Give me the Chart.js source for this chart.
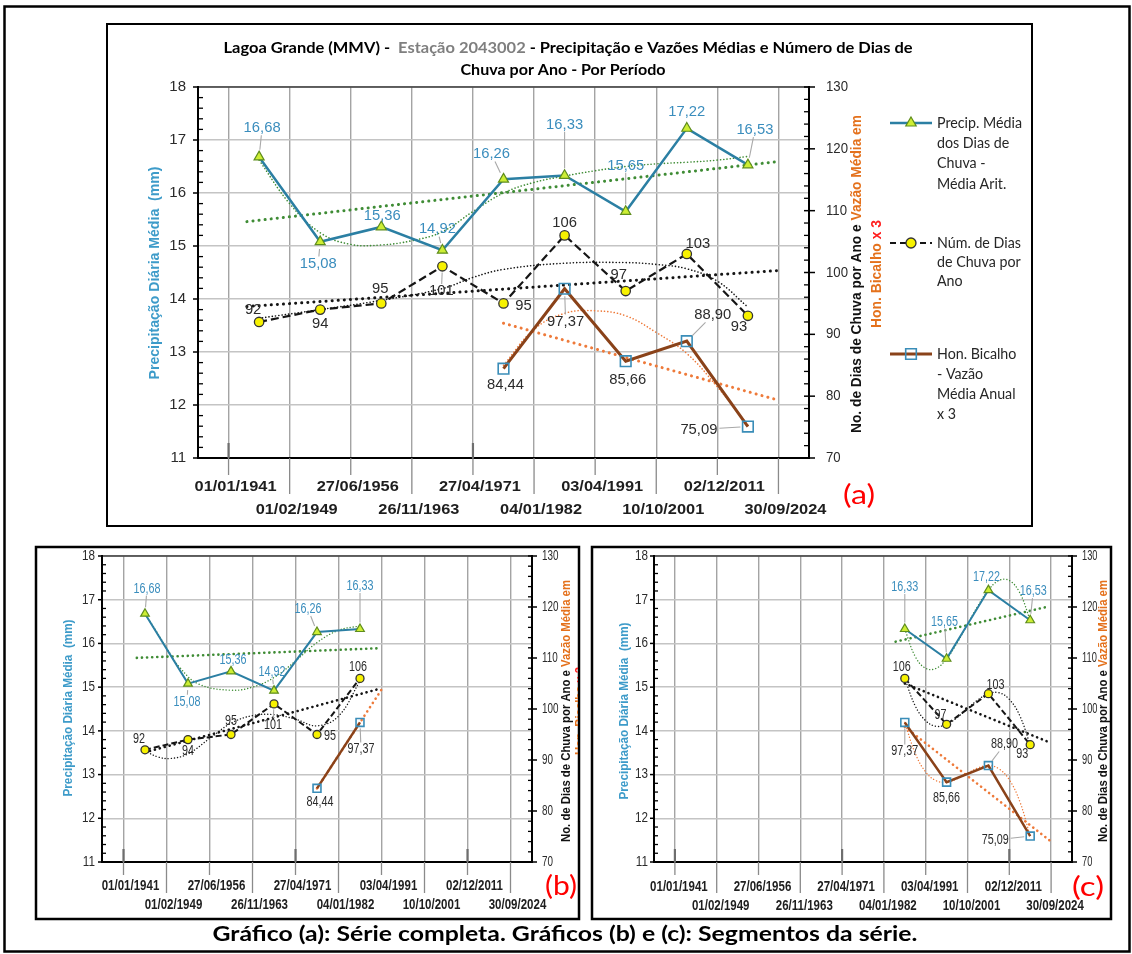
<!DOCTYPE html>
<html><head><meta charset="utf-8">
<script src="https://cdn.jsdelivr.net/npm/chart.js@4.4.1/dist/chart.umd.min.js"></script>
<style>
html,body{margin:0;padding:0;background:#fff;}
#page{position:relative;width:1132px;height:954px;overflow:hidden;background:#fff;}
#page canvas{position:absolute;left:0;top:0;}
</style></head>
<body><div id="page">
<canvas id="cFrame" width="1132" height="954"></canvas>
<canvas id="cA" width="1132" height="954"></canvas>
<canvas id="cB" width="1132" height="954"></canvas>
<canvas id="cC" width="1132" height="954"></canvas>
</div>
<script>
// ================= DATA =================
const periodNumber = [1,2,3,4,5,6,7,8,9];
const precipMediaDiaria = [16.68,15.08,15.36,14.92,16.26,16.33,15.65,17.22,16.53];
const numDiasChuva = [92,94,95,101,95,106,97,103,93];
const vazaoPeriodNumber = [5,6,7,8,9];
const vazaoHonBicalhoX3 = [84.44,97.37,85.66,88.90,75.09];
const dateGridPositions = [0.5,1.5,2.5,3.5,4.5,5.5,6.5,7.5,8.5,9.5];
const dateTickLabels = ['01/01/1941','01/02/1949','27/06/1956','26/11/1963','27/04/1971','04/01/1982','03/04/1991','10/10/2001','02/12/2011','30/09/2024'];
const precipTicks = [11,12,13,14,15,16,17,18];
const diasTicks = [70,80,90,100,110,120,130];

// trendlines as they appear in each panel (x = period number, y = value)
const trendA_precipLinear = [[0.8,15.46],[9.47,16.59]];
const trendA_precipPoly = [[1,16.62],[1.5,15.8],[2,15.25],[2.5,15.03],[3,15.02],[3.5,15.1],[4,15.27],[4.5,15.65],[5,16.0],[5.5,16.2],[6,16.32],[6.5,16.42],[7,16.5],[7.5,16.55],[8,16.58],[8.5,16.62],[9,16.69]];
const trendA_diasLinear = [[0.8,94.5],[9.47,100.3]];
const trendA_diasPoly = [[1,92.6],[2,94.0],[3,95.5],[4,97.4],[4.5,99.2],[5,100.5],[6,101.5],[7,101.6],[7.5,101.3],[8,100.6],[8.5,98.6],[9,94.4]];
const trendA_vazaoLinear = [[5,91.8],[9.48,79.4]];
const trendA_vazaoPoly = [[5,85.0],[5.5,90.8],[6,93.4],[6.5,93.8],[7,93.0],[7.5,90.3],[8,86.9],[8.5,81.5],[9,75.3]];

const trendB_precipLinear = [[0.81,15.67],[6.44,15.89]];
const trendB_precipPoly = [[1,16.68],[1.25,16.3],[1.5,15.9],[1.8,15.46],[2.25,15.07],[3,14.93],[3.5,15.0],[4,15.22],[4.5,15.6],[5,16.02],[5.5,16.3],[6,16.4]];
const trendB_diasLinear = [[1,91.5],[6.47,104.0]];
const trendB_diasPoly = [[1,91.8],[1.3,90.6],[1.6,90.3],[2,91.2],[2.5,94.2],[3,97.2],[3.5,98.7],[4,98.9],[4.5,98.0],[5,96.7],[5.5,98.6],[6,105.5]];
const trendB_vazaoLinear = [[5,84.44],[6.5,103.8]];

const trendC_precipLinear = [[5.78,16.04],[9.42,16.84]];
const trendC_precipPoly = [[6,16.33],[6.25,15.7],[6.5,15.43],[6.75,15.43],[7,15.65],[7.25,16.01],[7.5,16.44],[7.75,16.86],[8,17.22],[8.25,17.44],[8.5,17.44],[8.75,17.16],[9,16.53]];
const trendC_diasLinear = [[6,105.0],[9.45,93.5]];
const trendC_diasPoly = [[6,106],[6.25,100.6],[6.5,97.7],[6.75,96.6],[7,97],[7.25,98.3],[7.5,100.1],[7.75,101.8],[8,103],[8.25,103.2],[8.5,101.9],[8.75,98.7],[9,93]];
const trendC_vazaoLinear = [[6,96.5],[9.5,74.0]];
const trendC_vazaoPoly = [[6,97.37],[6.25,91.3],[6.5,87.65],[6.75,85.94],[7,85.66],[7.25,86.32],[7.5,87.41],[7.75,88.44],[8,88.9],[8.25,88.29],[8.5,86.13],[8.75,81.89],[9,75.09]];

// ================= STYLE / LAYOUT =================
const ARIAL = "'Liberation Sans', Arimo, Arial, sans-serif";
const CAL = "Lato, 'Open Sans', sans-serif";
const COL = {
  teal:'#2b7fa3', tealLabel:'#3a8dbd', tealTitle:'#3d9bc9',
  triFill:'#cdee34', triEdge:'#5f8d1d', green:'#3f8c35',
  black:'#151515', yellow:'#f7f200', circEdge:'#333',
  brown:'#8a4219', sqEdge:'#3a8db8', orange:'#ee7a3a', orangeTitle:'#e4711c', red:'#ff2020',
  gridV:'#a4a4a4', gridH:'#c4c4c4', text:'#2b2b2b', gray:'#7f7f7f', leader:'#a8a8a8'
};
const W = 1132, H = 954;

const specA = {
  canvas:'cA', area:{l:198,r:809,t:87,b:458}, clip:[108,24,1031,525],
  range:[0,9], flowRange:[0,5],
  trends:{pLin:trendA_precipLinear,pPoly:trendA_precipPoly,dLin:trendA_diasLinear,dPoly:trendA_diasPoly,vLin:trendA_vazaoLinear,vPoly:trendA_vazaoPoly},
  marker:{tri:5.8,circ:4.7,sq:7.5}, lineW:{p:2.5,d:2.2,v:3}, dash:[8,4], trendW:[3,1.6], dotGap:[6,3.2],
  tickFont:{size:15,family:ARIAL,ref:'18',refW:16.7}, tick2Font:{size:15,family:ARIAL,ref:'130',refW:22},
  xFont:{size:15,family:ARIAL,weight:'bold',ref:'01/01/1941',refW:82}, xRows:[487,510], xDx:7, stubLen:[17,36], innerStubs:[0,4], innerLen:15,
  tickGapL:12, tickGapR:17, majorTick:5, minorTick:5,
  labelFont:{size:15,family:ARIAL,ref:'16,68',refW:37},
  offsets:{
    p:[[3,-29,1],[-2,22,1],[1,-11,0],[-5,-21,1],[-12,-25,1],[0,-51,1],[0,-46,1],[0,-16,0],[7,-35,1]],
    d:[[-6,-12,0],[0,14,0],[-1,-15,0],[-1,25,1],[20,2,0],[0,-13,0],[-7,-16,0],[11,-10,0],[-9,11,0]],
    v:[[2,16,0],[1,33,1],[2,19,0],[26,-26,1],[-49,3,1]]
  },
  leftTitle:{x:155,y:273,size:14,w:213}, rightTitle:{x:857,x2:877,y:274,size:14,w:318,w2:108},
  tag:{text:'(a)',x:859,y:496,size:26,w:32}, main:true
};
const specB = {
  canvas:'cB', area:{l:102,r:532,t:556,b:862}, clip:[37,548,578,918],
  range:[0,6], flowRange:[0,2],
  trends:{pLin:trendB_precipLinear,pPoly:trendB_precipPoly,dLin:trendB_diasLinear,dPoly:trendB_diasPoly,vLin:trendB_vazaoLinear},
  marker:{tri:5,circ:4,sq:5.6}, lineW:{p:2,d:2,v:2.5}, dash:[6,3], trendW:[2.6,1.4], dotGap:[5,3],
  tickFont:{size:14,family:ARIAL,ref:'18',refW:13}, tick2Font:{size:14,family:ARIAL,ref:'130',refW:16.5},
  xFont:{size:14,family:ARIAL,weight:'bold',ref:'02/12/2011',refW:57}, xRows:[886,905], xDx:7, stubLen:[13,31], innerStubs:[0,4,8], innerLen:13,
  tickGapL:7, tickGapR:10, majorTick:4, minorTick:4,
  labelFont:{size:14,family:ARIAL,ref:'16,68',refW:27},
  offsets:{
    p:[[2,-25,1],[-1,18,1],[2,-11,0],[-2,-18,1],[-9,-23,1],[0,-43,1]],
    d:[[-6,-11,0],[0,12,0],[0,-13,0],[-1,21,1],[13,2,0],[-2,-11,0]],
    v:[[3,14,0],[1,27,1]]
  },
  leftTitle:{x:68,y:708,size:13.5,w:177}, rightTitle:{x:566,x2:580,y:711,size:13,w:262},
  tag:{text:'(b)',x:561,y:887,size:26,w:32}
};
const specC = {
  canvas:'cC', area:{l:654,r:1072,t:556,b:862}, clip:[593,548,1110,918],
  range:[5,9], flowRange:[1,5],
  trends:{pLin:trendC_precipLinear,pPoly:trendC_precipPoly,dLin:trendC_diasLinear,dPoly:trendC_diasPoly,vLin:trendC_vazaoLinear,vPoly:trendC_vazaoPoly},
  marker:{tri:5,circ:4,sq:5.6}, lineW:{p:2,d:2,v:2.5}, dash:[6,3], trendW:[2.6,1.4], dotGap:[5,3],
  tickFont:{size:14,family:ARIAL,ref:'18',refW:13}, tick2Font:{size:14,family:ARIAL,ref:'130',refW:15.5},
  xFont:{size:14,family:ARIAL,weight:'bold',ref:'02/12/2011',refW:57}, xRows:[887,906], xDx:4, stubLen:[13,31], innerStubs:[0,4,8], innerLen:13,
  tickGapL:6, tickGapR:10, majorTick:4, minorTick:4,
  labelFont:{size:14,family:ARIAL,ref:'16,68',refW:27},
  offsets:{
    p:[[0,-42,1],[-2,-37,1],[-2,-13,0],[3,-29,1]],
    d:[[-3,-11,0],[-6,-9,0],[7,-9,0],[-8,9,0]],
    v:[[0,29,1],[0,16,0],[16,-21,1],[-35,4,1]]
  },
  leftTitle:{x:624,y:711,size:13.5,w:177}, rightTitle:{x:1103,x2:1117,y:711,size:13,w:262},
  tag:{text:'(c)',x:1088,y:888,size:26,w:32}
};

// ================= HELPERS =================
function fontStr(f){ return (f.weight||'normal')+' '+f.size+'px '+f.family; }
function calib(ctx,f){ ctx.save(); ctx.font=fontStr(f); const w=ctx.measureText(f.ref).width; ctx.restore(); return Object.assign({},f,{sx:f.refW? f.refW/w:1}); }
function measure(ctx,text,f){ ctx.save(); ctx.font=fontStr(f); const w=ctx.measureText(text).width; ctx.restore(); return w*(f.sx||1); }
function drawParts(ctx,parts,x,y,f,align,rot,widthOverride){
  ctx.save(); ctx.font=fontStr(f);
  const ws=parts.map(p=>ctx.measureText(p[0]).width); const tot=ws.reduce((a,b)=>a+b,0);
  const sx=widthOverride? widthOverride/tot : (f.sx||1);
  ctx.translate(x,y); if(rot) ctx.rotate(rot); ctx.scale(sx,1);
  let cx= align==='left'?0 : align==='right'? -tot : -tot/2;
  ctx.textAlign='left'; ctx.textBaseline='middle';
  parts.forEach((p,i)=>{ ctx.fillStyle=p[1]; ctx.fillText(p[0],cx,0); cx+=ws[i]; });
  ctx.restore();
  return {w:tot*sx,sx:sx};
}
function line(ctx,x1,y1,x2,y2,color,w,dash,cap){
  ctx.save(); ctx.strokeStyle=color; ctx.lineWidth=w; ctx.setLineDash(dash||[]); if(cap) ctx.lineCap=cap;
  ctx.beginPath(); ctx.moveTo(x1,y1); ctx.lineTo(x2,y2); ctx.stroke(); ctx.restore();
}
function marker(ctx,type,x,y,r,fill,edge,bw){
  ctx.save(); ctx.beginPath();
  if(type==='triangle'){ for(let k=0;k<3;k++){ const a=-Math.PI/2+k*2*Math.PI/3; const px=x+r*Math.cos(a), py=y+r*Math.sin(a); k?ctx.lineTo(px,py):ctx.moveTo(px,py);} ctx.closePath(); }
  else if(type==='circle'){ ctx.arc(x,y,r,0,Math.PI*2); }
  else { const s=r*Math.SQRT1_2; ctx.rect(x-s,y-s,2*s,2*s); }
  if(fill){ ctx.fillStyle=fill; ctx.fill(); }
  ctx.strokeStyle=edge; ctx.lineWidth=bw; ctx.stroke(); ctx.restore();
}
const fmt2 = v => v.toFixed(2).replace('.',',');

// ================= FRAME / CAPTION =================
(function(){
  const ctx=document.getElementById('cFrame').getContext('2d');
  ctx.fillStyle='#fff'; ctx.fillRect(0,0,W,H);
  ctx.strokeStyle='#000';
  ctx.lineWidth=2.5; ctx.strokeRect(4.5,6.5,1125,945);
  ctx.lineWidth=2; ctx.strokeRect(107,24,925,502);
  ctx.lineWidth=2.5; ctx.strokeRect(36,547,543,372);
  ctx.strokeRect(592,547,519,372);
  drawParts(ctx,[['Gráfico (a): Série completa. Gráficos (b) e (c): Segmentos da série.','#000']],565,935,{size:20,weight:'bold',family:CAL},'center',0,705);
})();

// ================= CHARTS =================
function buildChart(spec){
  const [s0,s1]=spec.range, [f0,f1]=spec.flowRange;
  const P=periodNumber.slice(s0,s1), pr=precipMediaDiaria.slice(s0,s1), di=numDiasChuva.slice(s0,s1);
  const VP=vazaoPeriodNumber.slice(f0,f1), va=vazaoHonBicalhoX3.slice(f0,f1);
  const xy=(xs,ys)=>xs.map((x,i)=>({x:x,y:ys[i]}));
  const tr=arr=>arr.map(p=>({x:p[0],y:p[1]}));
  const datasets=[
    {data:xy(P,pr),yAxisID:'y',borderColor:COL.teal,borderWidth:spec.lineW.p,pointStyle:'triangle',pointRadius:spec.marker.tri,pointBackgroundColor:COL.triFill,pointBorderColor:COL.triEdge,pointBorderWidth:1.2,tension:0,order:0},
    {data:xy(P,di),yAxisID:'y2',borderColor:COL.black,borderWidth:spec.lineW.d,borderDash:spec.dash,pointStyle:'circle',pointRadius:spec.marker.circ,pointBackgroundColor:COL.yellow,pointBorderColor:COL.circEdge,pointBorderWidth:1.3,tension:0,order:0},
    {data:xy(VP,va),yAxisID:'y2',borderColor:COL.brown,borderWidth:spec.lineW.v,pointStyle:'rect',pointRadius:spec.marker.sq,pointBackgroundColor:'rgba(0,0,0,0)',pointBorderColor:COL.sqEdge,pointBorderWidth:1.6,tension:0,order:0}
  ];
  const trend=(arr,axis,color,thick)=>({data:tr(arr),yAxisID:axis,borderColor:color,borderWidth:thick?spec.trendW[0]:spec.trendW[1],borderDash:[0.1,thick?spec.dotGap[0]:spec.dotGap[1]],borderCapStyle:'round',pointRadius:0,tension:thick?0:0.4,fill:false,order:1});
  const T=spec.trends;
  if(T.pLin) datasets.push(trend(T.pLin,'y',COL.green,true));
  if(T.pPoly) datasets.push(trend(T.pPoly,'y',COL.green,false));
  if(T.dLin) datasets.push(trend(T.dLin,'y2',COL.black,true));
  if(T.dPoly) datasets.push(trend(T.dPoly,'y2',COL.black,false));
  if(T.vLin) datasets.push(trend(T.vLin,'y2',COL.orange,true));
  if(T.vPoly) datasets.push(trend(T.vPoly,'y2',COL.orange,false));

  const A=spec.area;
  const plugin={
    id:'deco',
    afterDatasetsDraw(chart){
      const ctx=chart.ctx;
      const lf=calib(ctx,spec.labelFont);
      const sets=[
        {ds:0,vals:pr,f:fmt2,color:COL.tealLabel,off:spec.offsets.p,r:spec.marker.tri},
        {ds:1,vals:di,f:v=>String(v),color:COL.text,off:spec.offsets.d,r:spec.marker.circ},
        {ds:2,vals:va,f:fmt2,color:COL.text,off:spec.offsets.v,r:spec.marker.sq*0.8}
      ];
      sets.forEach(s=>{
        const meta=chart.getDatasetMeta(s.ds);
        s.vals.forEach((v,i)=>{
          const el=meta.data[i]; const o=s.off[i]; const txt=s.f(v);
          const lx=el.x+o[0], ly=el.y+o[1];
          if(o[2]){
            const hw=measure(ctx,txt,lf)/2+2, hh=lf.size*0.42+1;
            const dx=el.x-lx, dy=el.y-ly; const dist=Math.hypot(dx,dy);
            const t=Math.min(dx?hw/Math.abs(dx):1e9, dy?hh/Math.abs(dy):1e9);
            const sxp=lx+dx*t, syp=ly+dy*t;
            const ex=el.x-dx/dist*(s.r+1.5), ey=el.y-dy/dist*(s.r+1.5);
            if(t<1 && Math.hypot(ex-sxp,ey-syp)>2) line(ctx,sxp,syp,ex,ey,COL.leader,1.1);
          }
          drawParts(ctx,[[txt,s.color]],lx,ly,lf,'center');
        });
      });
    },
    afterDraw(chart){
      const ctx=chart.ctx, ca=chart.chartArea, ys=chart.scales.y, y2=chart.scales.y2, xs=chart.scales.x;
      // plot frame / axes
      line(ctx,ca.left,ca.top,ca.right,ca.top,'#3a3a3a',1.6);
      line(ctx,ca.left,ca.top-1,ca.left,ca.bottom+1,'#000',2);
      line(ctx,ca.right,ca.top-1,ca.right,ca.bottom+1,'#000',2);
      line(ctx,ca.left-1,ca.bottom,ca.right+1,ca.bottom,'#000',2);
      // left axis ticks (major outside, minor inside every 0.2)
      for(let k=0;k<=35;k++){
        const v=11+k*0.2, py=ys.getPixelForValue(v);
        if(k%5===0) line(ctx,ca.left-spec.majorTick,py,ca.left,py,'#000',1.5);
        else line(ctx,ca.left,py,ca.left+spec.minorTick,py,'#000',1.3);
      }
      // right axis ticks (major crossing, minor inside every 2)
      for(let k=0;k<=30;k++){
        const v=70+k*2, py=y2.getPixelForValue(v);
        if(k%5===0) line(ctx,ca.right-spec.majorTick,py,ca.right+spec.majorTick+1,py,'#000',1.5);
        else line(ctx,ca.right-spec.minorTick,py,ca.right,py,'#000',1.3);
      }
      const tf=calib(ctx,spec.tickFont), tf2=calib(ctx,spec.tick2Font), xf=calib(ctx,spec.xFont);
      precipTicks.forEach(v=>drawParts(ctx,[[String(v),COL.text]],ca.left-spec.tickGapL,ys.getPixelForValue(v),tf,'right'));
      diasTicks.forEach(v=>drawParts(ctx,[[String(v),COL.text]],ca.right+spec.tickGapR,y2.getPixelForValue(v),tf2,'left'));
      // date labels, two staggered rows, with leader stubs
      dateTickLabels.forEach((lab,i)=>{
        const px=xs.getPixelForValue(dateGridPositions[i]); const row=i%2;
        line(ctx,px,ca.bottom,px,ca.bottom+spec.stubLen[row],'#8a8a8a',1.3);
        drawParts(ctx,[[lab,'#1e1e1e']],px+spec.xDx,spec.xRows[row],xf,'center');
      });
      spec.innerStubs.forEach(i=>{ const px=xs.getPixelForValue(dateGridPositions[i]); line(ctx,px,ca.bottom-spec.innerLen,px,ca.bottom,'#6e6e6e',2.2); });
      // axis titles (clipped to the panel box)
      ctx.save();
      const c=spec.clip; ctx.beginPath(); ctx.rect(c[0],c[1],c[2]-c[0],c[3]-c[1]); ctx.clip();
      const lt=spec.leftTitle;
      drawParts(ctx,[['Precipitação Diária Média  (mm)',COL.tealTitle]],lt.x,lt.y,{size:lt.size,weight:'bold',family:ARIAL},'center',-Math.PI/2,lt.w);
      const rt=spec.rightTitle;
      const r1=drawParts(ctx,[['No. de Dias de Chuva por Ano e ','#111'],['Vazão Média em',COL.orangeTitle]],rt.x,rt.y,{size:rt.size,weight:'bold',family:ARIAL},'center',-Math.PI/2,rt.w);
      const f2={size:rt.size,weight:'bold',family:ARIAL,sx:r1.sx};
      drawParts(ctx,[['Hon. Bicalho ',COL.orangeTitle],['x 3',COL.red]],rt.x2,rt.y,f2,'center',-Math.PI/2,rt.w2);
      ctx.restore();
      // panel tag
      const tg=spec.tag;
      drawParts(ctx,[[tg.text,'#ff0000']],tg.x,tg.y,{size:tg.size,family:CAL},'center',0,tg.w);
      if(spec.main){
        const tfnt={size:16,weight:'bold',family:CAL};
        drawParts(ctx,[['Lagoa Grande (MMV) -  ','#000'],['Estação 2043002','#7f7f7f'],[' - Precipitação e Vazões Médias e Número de Dias de','#000']],568,48,tfnt,'center',0,689);
        drawParts(ctx,[['Chuva por Ano - Por Período','#000']],563,70,tfnt,'center',0,205);
        // legend
        const lg=calib(ctx,{size:15.5,family:CAL,ref:'Precip. Média',refW:85});
        const x0=890,x1=932,xm=911,tx=937;
        line(ctx,x0,123,x1,123,COL.teal,2.5);
        marker(ctx,'triangle',xm,123,6,COL.triFill,COL.triEdge,1.2);
        ['Precip. Média','dos Dias de','Chuva -','Média Arit.'].forEach((t,i)=>drawParts(ctx,[[t,'#262626']],tx,123+20.2*i,lg,'left'));
        line(ctx,x0,243,x1,243,COL.black,2.2,[6,4]);
        marker(ctx,'circle',xm,243,5,COL.yellow,COL.circEdge,1.3);
        ['Núm. de Dias','de Chuva por','Ano'].forEach((t,i)=>drawParts(ctx,[[t,'#262626']],tx,243+19*i,lg,'left'));
        line(ctx,x0,354,x1,354,COL.brown,3);
        marker(ctx,'rect',xm,354,7.5,null,COL.sqEdge,1.6);
        ['Hon. Bicalho','- Vazão','Média Anual','x 3'].forEach((t,i)=>drawParts(ctx,[[t,'#262626']],tx,354+20*i,lg,'left'));
      }
    }
  };

  return new Chart(document.getElementById(spec.canvas),{
    type:'line',
    data:{datasets:datasets},
    options:{
      responsive:false, animation:false, events:[],
      layout:{padding:{left:A.l,right:W-A.r,top:A.t,bottom:H-A.b}},
      plugins:{legend:{display:false},tooltip:{enabled:false},title:{display:false}},
      scales:{
        x:{type:'linear',min:0,max:10,
           afterBuildTicks:s=>{ s.ticks=dateGridPositions.map(v=>({value:v})); },
           ticks:{display:false},grid:{color:COL.gridV,lineWidth:1.4,drawTicks:false},border:{display:false},
           afterFit:s=>{ s.height=0; }},
        y:{type:'linear',position:'left',min:11,max:18,
           ticks:{display:false,stepSize:1},grid:{color:COL.gridH,lineWidth:1.4,drawTicks:false},border:{display:false},
           afterFit:s=>{ s.width=0; }},
        y2:{type:'linear',position:'right',min:70,max:130,display:false}
      }
    },
    plugins:[plugin]
  });
}
buildChart(specA); buildChart(specB); buildChart(specC);
</script>
</body></html>
